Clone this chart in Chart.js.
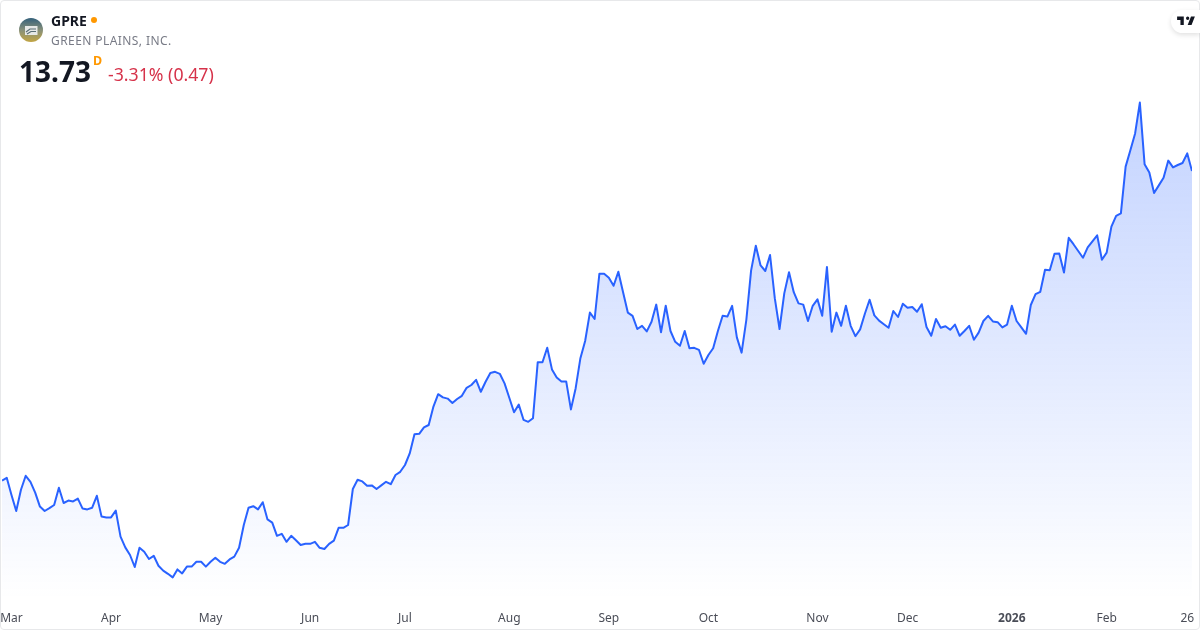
<!DOCTYPE html>
<html>
<head>
<meta charset="utf-8">
<title>GPRE</title>
<script src="https://cdn.jsdelivr.net/npm/chart.js@4"></script>
<style>
html, body { margin: 0; padding: 0; background: #fff; }
body { width: 1200px; height: 630px; overflow: hidden; position: relative; font-family: "Noto Sans", sans-serif; }
#canvas { position: absolute; left: 0; top: 0; }
#frame { position: absolute; left: 0; top: 0; width: 1198px; height: 628px; border: 1px solid #e7e8ea; border-radius: 4px; pointer-events: none; }
.txt { position: absolute; white-space: nowrap; }
#symbol { left: 51px; top: 12px; font-size: 14px; line-height: 18px; font-weight: 700; color: #131722; }
#dot { position: absolute; left: 91px; top: 17px; width: 6px; height: 6px; border-radius: 50%; background: #ff9800; }
#company { left: 51px; top: 32px; font-size: 12px; line-height: 18px; letter-spacing: 0.42px; color: #787b86; }
#price { left: 19px; top: 51px; font-size: 28px; line-height: 40px; font-weight: 700; color: #131722; }
#interval { left: 93px; top: 54px; font-size: 12.5px; line-height: 14px; font-weight: 700; color: #ff9800; }
#change { left: 108px; top: 61px; font-size: 17.7px; line-height: 26px; color: #d6324a; }
#logo { position: absolute; left: 19px; top: 18px; }
#tvbadge { position: absolute; left: 1171px; top: 10px; width: 29px; height: 23px; background: #fff; border-radius: 12px 0 0 12px; box-shadow: 0 2px 5px rgba(0, 0, 0, 0.12); }
#tvbadge svg { position: absolute; left: 5px; top: 3px; }
</style>
</head>
<body>
<canvas id="canvas" width="1200" height="630"></canvas>
<div id="frame"></div>

<svg id="logo" width="24" height="24" viewBox="0 0 24 24">
    <defs>
        <linearGradient id="logoFill" x1="0" y1="0" x2="0" y2="1">
            <stop offset="0" stop-color="#34607a"/>
            <stop offset="0.5" stop-color="#87907a"/>
            <stop offset="1" stop-color="#c2a544"/>
        </linearGradient>
    </defs>
    <circle cx="12" cy="12" r="12" fill="url(#logoFill)"/>
    <rect x="6" y="8" width="12.5" height="9" fill="#e6e8e6"/>
    <path d="M7 14 L11 11 L17 11 M8 16 L12 13.5 L17 13.5" stroke="#5a6e74" stroke-width="1.2" fill="none"/>
</svg>
<div id="symbol" class="txt">GPRE</div>
<div id="dot"></div>
<div id="company" class="txt">GREEN PLAINS, INC.</div>
<div id="price" class="txt">13.73</div>
<div id="interval" class="txt">D</div>
<div id="change" class="txt">-3.31% (0.47)</div>

<div id="tvbadge">
    <svg width="20" height="16" viewBox="0 0 36 28"><path fill="#131722" d="M14 6H2v6h6v9h6V6Zm14 15h-7l6-15h7l-6 15Zm-7-9a3 3 0 1 0 0-6 3 3 0 0 0 0 6Z"/></svg>
</div>

<script>
// daily closes
var closes = [
    5.99, 6.06, 5.63, 5.23, 5.76, 6.11, 5.96, 5.69, 5.34, 5.23,
    5.30, 5.38, 5.81, 5.43, 5.49, 5.47, 5.54, 5.29, 5.27, 5.31,
    5.61, 5.09, 5.07, 5.07, 5.24, 4.59, 4.32, 4.13, 3.83, 4.31,
    4.21, 4.03, 4.11, 3.86, 3.74, 3.66, 3.57, 3.77, 3.67, 3.84,
    3.84, 3.96, 3.96, 3.84, 3.96, 4.06, 3.96, 3.91, 4.02, 4.09,
    4.31, 4.88, 5.31, 5.35, 5.27, 5.45, 5.02, 4.94, 4.61, 4.66,
    4.46, 4.61, 4.50, 4.38, 4.41, 4.41, 4.46, 4.31, 4.28, 4.41,
    4.49, 4.81, 4.81, 4.88, 5.78, 6.01, 5.97, 5.86, 5.87, 5.78,
    5.87, 5.96, 5.90, 6.13, 6.21, 6.38, 6.67, 7.15, 7.16, 7.32,
    7.38, 7.84, 8.15, 8.07, 8.04, 7.93, 8.03, 8.11, 8.31, 8.38,
    8.51, 8.21, 8.46, 8.68, 8.71, 8.66, 8.42, 8.06, 7.70, 7.89,
    7.51, 7.46, 7.55, 8.95, 8.95, 9.31, 8.77, 8.57, 8.47, 8.47,
    7.77, 8.30, 9.05, 9.48, 10.19, 10.03, 11.16, 11.16, 11.06, 10.86,
    11.21, 10.70, 10.19, 10.11, 9.78, 9.86, 9.72, 9.96, 10.39, 9.70,
    10.36, 9.73, 9.46, 9.36, 9.73, 9.30, 9.31, 9.26, 8.91, 9.13,
    9.30, 9.73, 10.11, 10.09, 10.36, 9.57, 9.19, 10.01, 11.24, 11.86,
    11.37, 11.23, 11.63, 10.55, 9.78, 10.67, 11.20, 10.70, 10.42, 10.39,
    9.98, 10.36, 10.52, 10.11, 11.33, 9.71, 10.19, 9.86, 10.36, 9.86,
    9.60, 9.77, 10.16, 10.51, 10.12, 9.99, 9.90, 9.81, 10.23, 10.08,
    10.41, 10.31, 10.33, 10.21, 10.40, 9.83, 9.61, 10.03, 9.81, 9.85,
    9.76, 9.89, 9.61, 9.73, 9.86, 9.51, 9.69, 9.98, 10.11, 9.97,
    9.95, 9.82, 9.89, 10.36, 9.98, 9.82, 9.66, 10.38, 10.65, 10.71,
    11.26, 11.25, 11.66, 11.67, 11.19, 12.06, 11.90, 11.73, 11.56, 11.82,
    11.97, 12.12, 11.51, 11.69, 12.34, 12.61, 12.67, 13.84, 14.25, 14.67,
    15.44, 13.90, 13.69, 13.18, 13.37, 13.56, 13.99, 13.82, 13.88, 13.93,
    14.17, 13.73
];
var tickLabels = ["Mar", "Apr", "May", "Jun", "Jul", "Aug", "Sep", "Oct", "Nov", "Dec", "2026", "Feb", "26"];
var tickDays = [2, 23, 44, 65, 85, 107, 128, 149, 172, 191, 213, 233, 250];
var yMin = 3.005;
var yMax = 18.005;

var ctx = document.getElementById('canvas').getContext('2d');

var points = [];
for (let i = 0; i < closes.length; i++) {
    points.push({ x: i, y: closes[i] });
}

var areaFill = ctx.createLinearGradient(0, 102, 0, 600);
areaFill.addColorStop(0, 'rgba(41, 98, 255, 0.28)');
areaFill.addColorStop(1, 'rgba(41, 98, 255, 0)');

var myChart = new Chart(ctx, {
    type: 'line',
    data: {
        datasets: [{
            data: points,
            borderColor: '#2962ff',
            borderWidth: 2,
            borderJoinStyle: 'round',
            backgroundColor: areaFill,
            fill: 'start',
            pointRadius: 0,
            tension: 0
        }]
    },
    options: {
        responsive: false,
        animation: false,
        layout: { padding: { left: 2, right: 8, top: 0, bottom: 0 } },
        plugins: { legend: { display: false }, tooltip: { enabled: false } },
        scales: {
            x: {
                type: 'linear',
                min: 0,
                max: closes.length - 1,
                grid: { display: false },
                border: { display: false },
                afterBuildTicks: function (scale) {
                    scale.ticks = tickDays.map(function (d) { return { value: d }; });
                },
                afterFit: function (scale) {
                    // fixed band under the plot, labels may overhang the sides
                    scale.height = 30;
                    scale.paddingLeft = 0;
                    scale.paddingRight = 0;
                },
                ticks: {
                    autoSkip: false,
                    maxRotation: 0,
                    padding: 3,
                    color: '#4a4d57',
                    font: function (c) {
                        return {
                            family: '"Noto Sans", sans-serif',
                            size: 12,
                            weight: tickLabels[c.index] === '2026' ? '700' : '400'
                        };
                    },
                    callback: function (value, index) {
                        return tickLabels[index];
                    }
                }
            },
            y: { display: false, min: yMin, max: yMax }
        }
    }
});
</script>
</body>
</html>
